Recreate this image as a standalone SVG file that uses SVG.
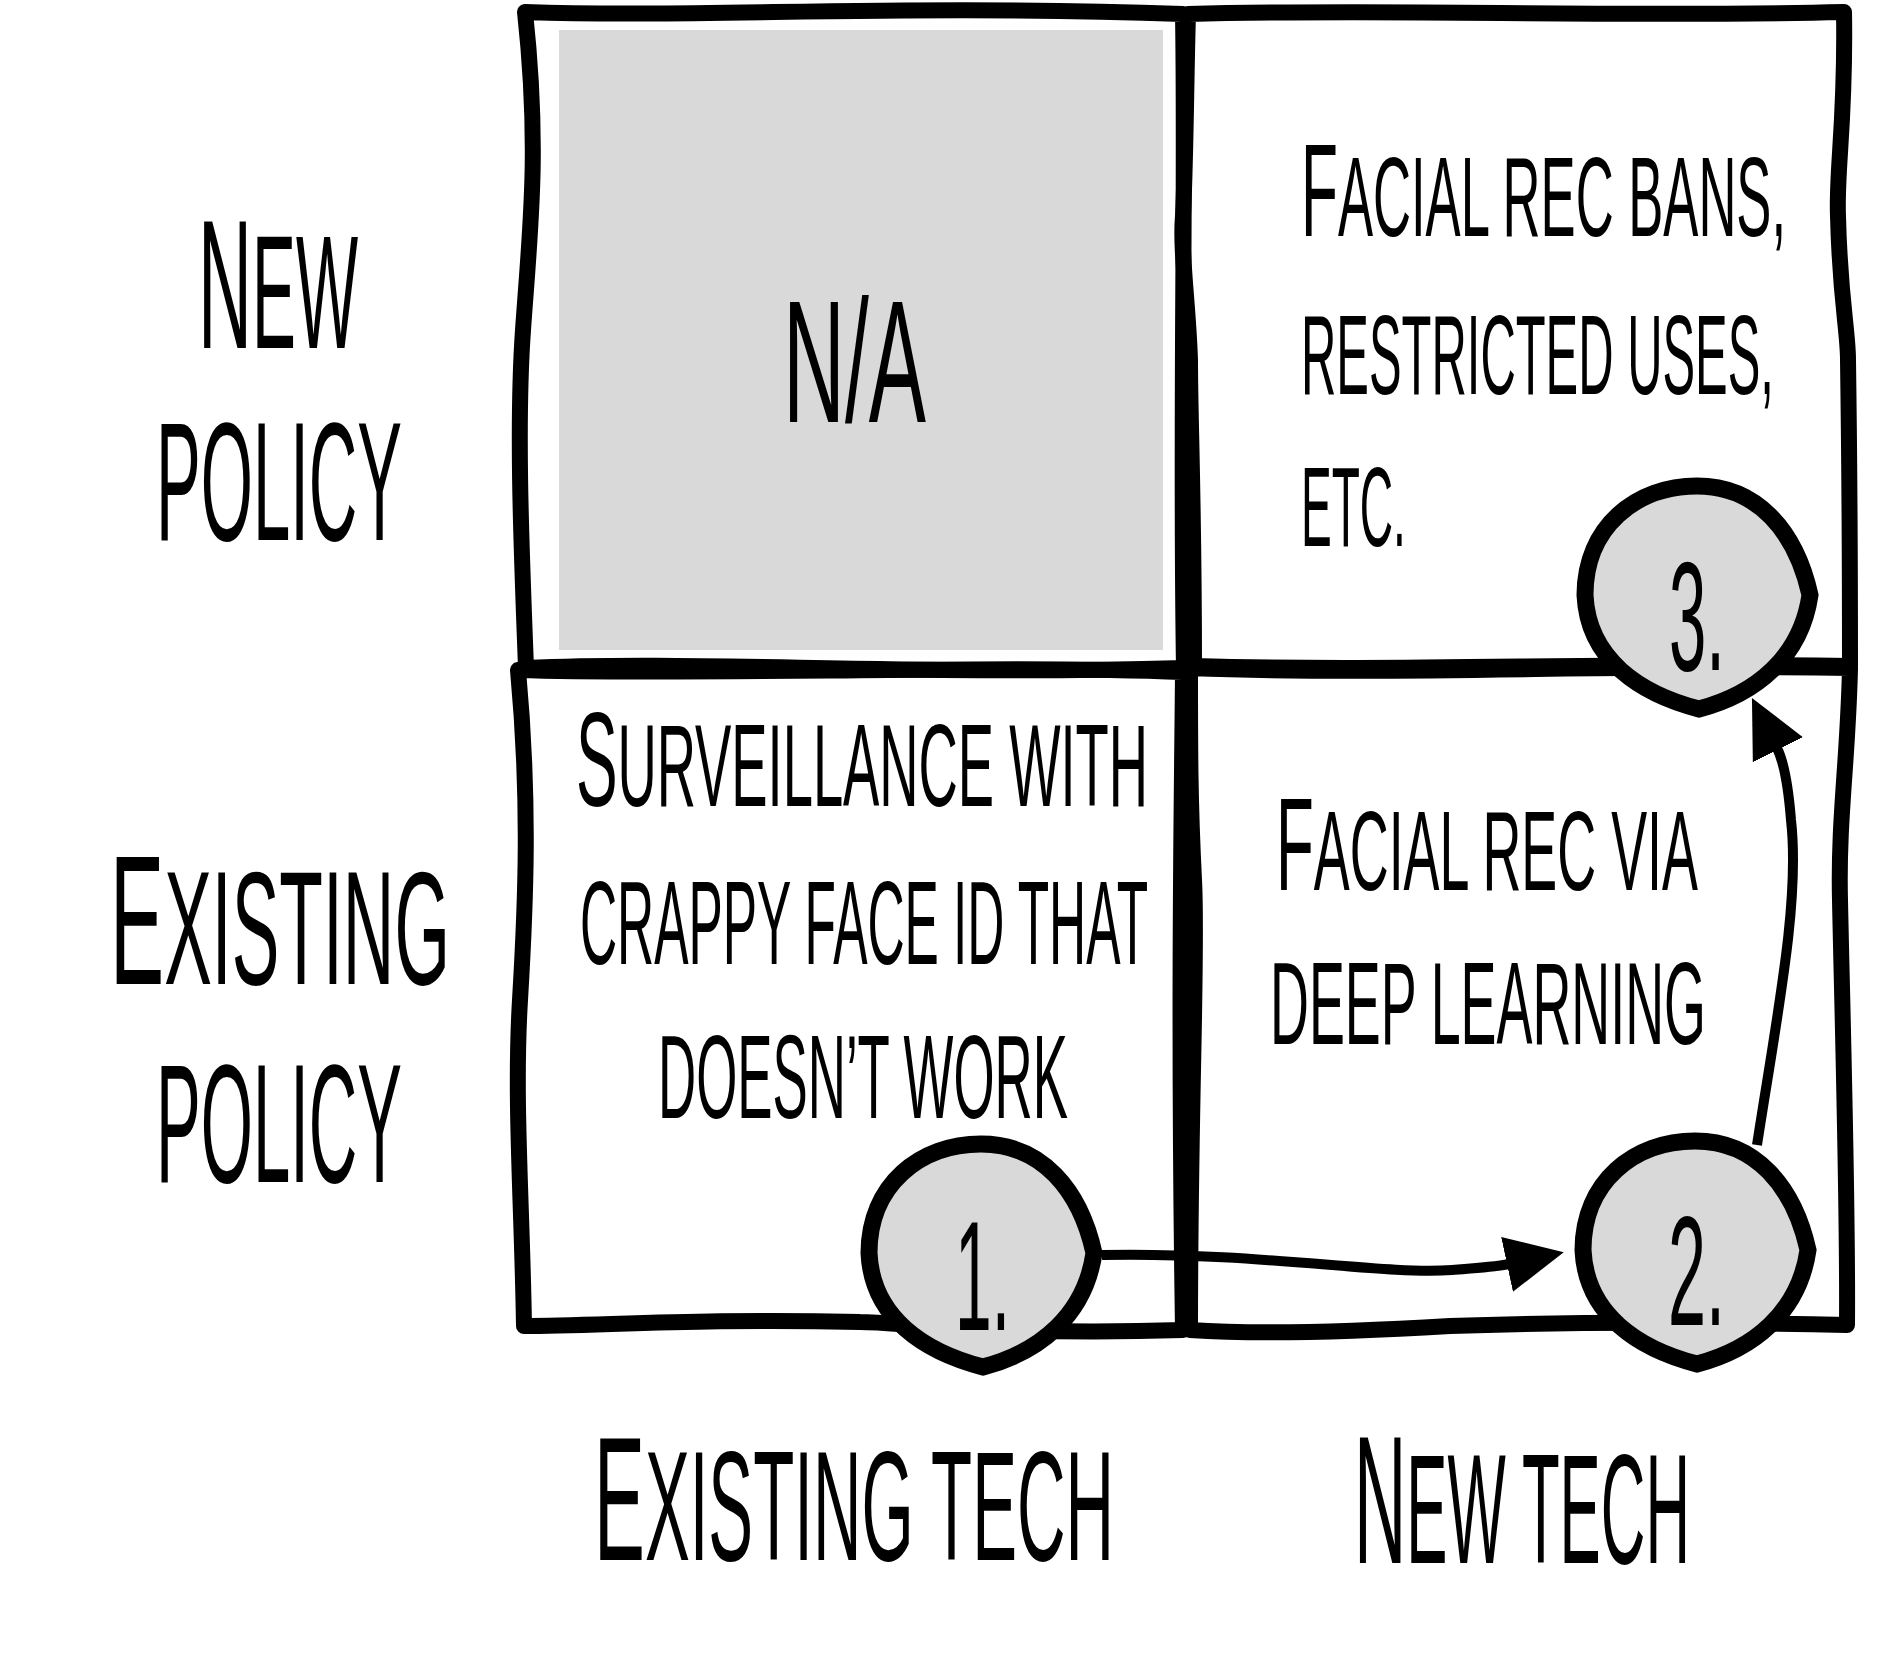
<svg xmlns="http://www.w3.org/2000/svg" width="1882" height="1672" viewBox="0 0 1882 1672">
<style>
.cell{fill:none;stroke:#000;stroke-width:16;stroke-linejoin:round;stroke-linecap:round}
.blob{fill:#d9d9d9;stroke:#000;stroke-width:17;stroke-linejoin:miter}
.conn{fill:none;stroke:#000;stroke-width:10;stroke-linecap:butt}
.t{font-family:"Liberation Sans",Arial,sans-serif;fill:#000}
</style>
<defs>
<path id="blobShape" d="M -112,0 C -112,-68 -61,-109 0,-109 C 61,-109 99,-63 113,0 C 104,62 59,99 2,114 C -56,99 -109,65 -112,0 Z"/>
<marker id="arrow" markerUnits="userSpaceOnUse" viewBox="0 0 60 60" markerWidth="60" markerHeight="60" refX="2" refY="30" orient="auto">
<path d="M0,2 L58,30 L0,58 Z" fill="#000"/>
</marker>
</defs>
<rect width="1882" height="1672" fill="#fff"/>
<rect x="559" y="30" width="604" height="620" fill="#d9d9d9"/>
<g id="grid">
<path id="cell-tl" class="cell" d="M 525,12 C 700,18 900,4 1183,14 C 1186,200 1180,420 1184,668 C 900,676 700,660 526,668 C 522,560 516,430 523,330 C 530,230 540,150 525,12 Z"/>
<path id="cell-tr" class="cell" d="M 1188,14 C 1400,8 1600,18 1844,12 C 1846,120 1836,170 1838,216 C 1840,300 1848,330 1848,360 C 1850,500 1850,600 1850,666 C 1600,662 1400,672 1194,666 C 1194,500 1190,420 1190,360 C 1188,300 1180,250 1183,216 C 1186,150 1186,80 1188,14 Z"/>
<path id="cell-bl" class="cell" d="M 518,670 C 700,676 1000,664 1183,672 C 1182,800 1178,1000 1183,1330 C 1000,1336 900,1322 860,1322 C 700,1318 600,1326 524,1326 C 522,1200 514,1100 520,1000 C 526,900 530,800 518,670 Z"/>
<path id="cell-br" class="cell" d="M 1190,668 C 1400,676 1600,664 1850,668 C 1848,760 1838,820 1840,900 C 1842,1000 1848,1200 1847,1325 C 1700,1322 1560,1322 1450,1326 C 1350,1332 1250,1334 1190,1330 C 1190,1100 1198,950 1194,880 C 1190,800 1190,750 1190,668 Z"/>
</g>
<g id="connectors">
<path id="edge-1-2" class="conn" marker-end="url(#arrow)" d="M 1102,1255 C 1260,1252 1380,1275 1452,1270 C 1480,1268 1495,1267 1509,1264"/>
<path id="edge-2-3" class="conn" marker-end="url(#arrow)" d="M 1757,1145 C 1778,1010 1800,900 1791,820 C 1789,795 1785,764 1777,748"/>
</g>
<g id="node-na">
<text class="t" transform="translate(783,422) scale(0.4902,1)" font-size="175" textLength="291.7" lengthAdjust="spacingAndGlyphs">N/A</text>
</g>
<g id="node-tr-text">
<text class="t" transform="translate(1301,236) scale(0.4595,1)" textLength="1055.6" lengthAdjust="spacingAndGlyphs"><tspan font-size="131">F</tspan><tspan font-size="114">ACIAL REC BANS,</tspan></text>
<text class="t" transform="translate(1301,394) scale(0.4291,1)" font-size="114" textLength="1102.2" lengthAdjust="spacingAndGlyphs">RESTRICTED USES,</text>
<text class="t" transform="translate(1301,546) scale(0.404,1)" font-size="114" textLength="259.7" lengthAdjust="spacingAndGlyphs">ETC.</text>
</g>
<g id="node-bl-text">
<text class="t" transform="translate(576,806) scale(0.4677,1)" textLength="1223.1" lengthAdjust="spacingAndGlyphs"><tspan font-size="133">S</tspan><tspan font-size="116">URVEILLANCE WITH</tspan></text>
<text class="t" transform="translate(580,964) scale(0.4289,1)" font-size="118" textLength="1324.4" lengthAdjust="spacingAndGlyphs">CRAPPY FACE ID THAT</text>
<text class="t" transform="translate(658,1118) scale(0.4467,1)" font-size="118" textLength="917.8" lengthAdjust="spacingAndGlyphs">DOESN’T WORK</text>
</g>
<g id="node-br-text">
<text class="t" transform="translate(1276,890) scale(0.4703,1)" textLength="897.3" lengthAdjust="spacingAndGlyphs"><tspan font-size="131">F</tspan><tspan font-size="114">ACIAL REC VIA</tspan></text>
<text class="t" transform="translate(1270,1044) scale(0.4633,1)" font-size="116" textLength="941.1" lengthAdjust="spacingAndGlyphs">DEEP LEARNING</text>
</g>
<g id="row-labels">
<text class="t" transform="translate(198,348) scale(0.4063,1)" textLength="393.8" lengthAdjust="spacingAndGlyphs"><tspan font-size="184">N</tspan><tspan font-size="162">EW</tspan></text>
<text class="t" transform="translate(156,540) scale(0.3992,1)" font-size="168" textLength="616.2" lengthAdjust="spacingAndGlyphs">POLICY</text>
<text class="t" transform="translate(110,984) scale(0.441,1)" textLength="770.9" lengthAdjust="spacingAndGlyphs"><tspan font-size="184">E</tspan><tspan font-size="162">XISTING</tspan></text>
<text class="t" transform="translate(156,1182) scale(0.3992,1)" font-size="168" textLength="616.2" lengthAdjust="spacingAndGlyphs">POLICY</text>
</g>
<g id="col-labels">
<text class="t" transform="translate(594,1560) scale(0.4324,1)" textLength="1202.6" lengthAdjust="spacingAndGlyphs"><tspan font-size="176">E</tspan><tspan font-size="155">XISTING TECH</tspan></text>
<text class="t" transform="translate(1354,1563) scale(0.3971,1)" textLength="846.1" lengthAdjust="spacingAndGlyphs"><tspan font-size="182">N</tspan><tspan font-size="155">EW TECH</tspan></text>
</g>
<g id="node-1">
<use href="#blobShape" class="blob" x="981" y="1253"/>
<text class="t" transform="translate(955,1330) scale(0.4227,1)" font-size="156" textLength="130.1" lengthAdjust="spacingAndGlyphs">1.</text>
</g>
<g id="node-2">
<use href="#blobShape" class="blob" x="1695" y="1250"/>
<text class="t" transform="translate(1668,1325) scale(0.438,1)" font-size="156" textLength="130.1" lengthAdjust="spacingAndGlyphs">2.</text>
</g>
<g id="node-3">
<use href="#blobShape" class="blob" x="1697" y="595"/>
<text class="t" transform="translate(1669,670) scale(0.4304,1)" font-size="156" textLength="130.1" lengthAdjust="spacingAndGlyphs">3.</text>
</g>
</svg>
